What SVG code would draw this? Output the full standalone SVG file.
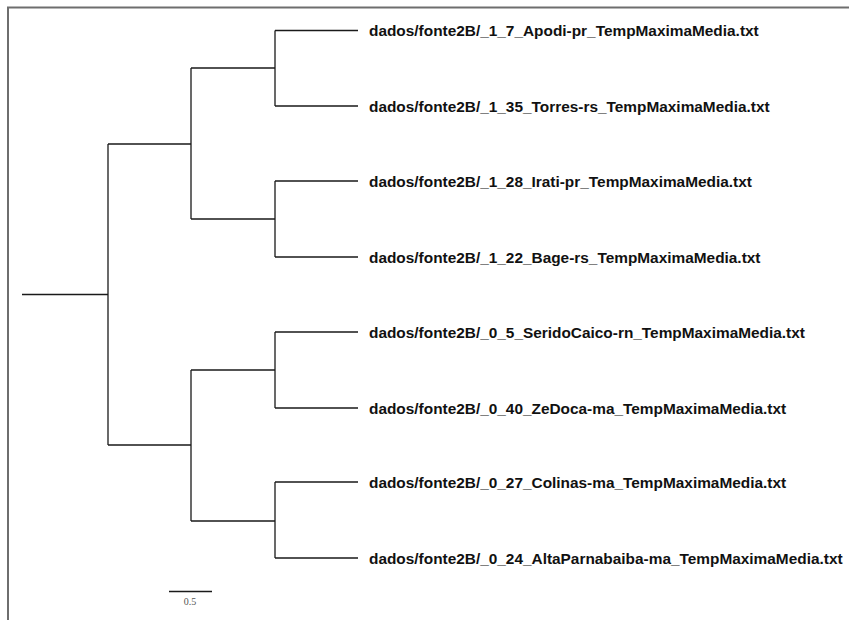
<svg xmlns="http://www.w3.org/2000/svg" width="849" height="620" viewBox="0 0 849 620">
<style>
.br{stroke:#1a1a1a;stroke-width:1.3;fill:none}
.lbl{font-family:"Liberation Sans",Arial,sans-serif;font-weight:bold;font-size:15.4px;fill:#111}
.frame{stroke:#6e6e6e;stroke-width:2;fill:none}
</style>
<rect width="849" height="620" fill="#fff"/>
<path class="frame" d="M8 620 V7.5 H849"/>
<g id="connectors">
<path class="br" d="M22 294.5 H108"/>
<path class="br" d="M108 144 V445"/>
<path class="br" d="M108 144 H191 M108 445 H191"/>
<path class="br" d="M191 68 V219 M191 370 V521"/>
<path class="br" d="M191 68 H275 M191 219 H275 M191 370 H275 M191 521 H275"/>
<path class="br" d="M275 30.5 V106 M275 181 V257 M275 332 V408 M275 482 V558"/>
<path class="br" d="M275 30.5 H358 M275 106 H358 M275 181 H358 M275 257 H358 M275 332 H358 M275 408 H358 M275 482 H358 M275 558 H358"/>
</g>
<g id="leaf1"><text class="lbl" x="369" y="36">dados/fonte2B/_1_7_Apodi-pr_TempMaximaMedia.txt</text></g>
<g id="leaf2"><text class="lbl" x="369" y="111.5">dados/fonte2B/_1_35_Torres-rs_TempMaximaMedia.txt</text></g>
<g id="leaf3"><text class="lbl" x="369" y="186.5">dados/fonte2B/_1_28_Irati-pr_TempMaximaMedia.txt</text></g>
<g id="leaf4"><text class="lbl" x="369" y="262.5">dados/fonte2B/_1_22_Bage-rs_TempMaximaMedia.txt</text></g>
<g id="leaf5"><text class="lbl" x="369" y="337.5">dados/fonte2B/_0_5_SeridoCaico-rn_TempMaximaMedia.txt</text></g>
<g id="leaf6"><text class="lbl" x="369" y="413.5">dados/fonte2B/_0_40_ZeDoca-ma_TempMaximaMedia.txt</text></g>
<g id="leaf7"><text class="lbl" x="369" y="487.5">dados/fonte2B/_0_27_Colinas-ma_TempMaximaMedia.txt</text></g>
<g id="leaf8"><text class="lbl" x="369" y="563.5">dados/fonte2B/_0_24_AltaParnabaiba-ma_TempMaximaMedia.txt</text></g>
<g id="scale">
<path class="br" d="M169 591.5 H212"/>
<text x="190" y="605" text-anchor="middle" font-family="Liberation Serif,serif" font-size="10" fill="#555">0.5</text>
</g>
</svg>
